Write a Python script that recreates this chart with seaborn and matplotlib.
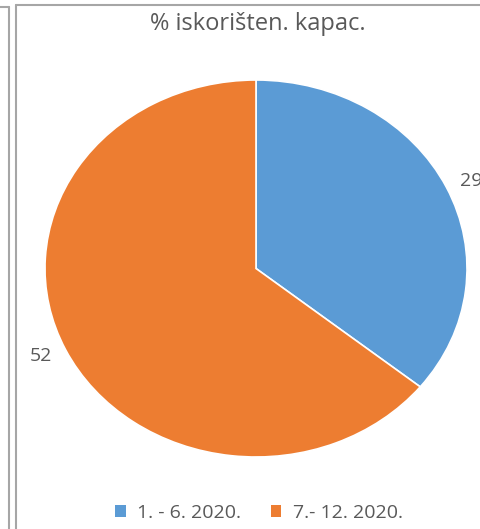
import matplotlib
matplotlib.use("Agg")
import matplotlib.pyplot as plt
from matplotlib.lines import Line2D
from matplotlib.patches import Patch
import seaborn as sns

# data
periods = ["1. - 6. 2020.", "7.- 12. 2020."]
values = [29, 52]
colors = ["#5B9BD5", "#ED7D31"]
title = "% iskorišten. kapac."

sns.set_theme(style="white")
plt.rcParams["font.family"] = ["Open Sans", "DejaVu Sans"]
TEXT = "#595959"

W, H = 481, 529
fig = plt.figure(figsize=(W / 100, H / 100), dpi=100)

# pie axes stretched to an ellipse like the spreadsheet chart
ax = fig.add_axes([45 / W, (H - 457) / H, 422 / W, 377 / H])
wedges, texts = ax.pie(
    values,
    labels=[str(v) for v in values],
    colors=colors,
    startangle=90,
    counterclock=False,
    labeldistance=1.07,
    wedgeprops=dict(edgecolor="white", linewidth=1.2),
    textprops=dict(color=TEXT, fontsize=14),
)
ax.set_aspect("auto")
ax.set_xlim(-1, 1)
ax.set_ylim(-1, 1)
for t in texts:
    t.set_clip_on(False)

fig.text(258 / W, 1 - 24 / H, title, ha="center", va="center",
         fontsize=17, color=TEXT)

handles = [Patch(facecolor=c, edgecolor="none") for c in colors]
fig.legend(handles, periods, loc="center", bbox_to_anchor=(259 / W, 1 - 513 / H),
           ncol=2, frameon=False, fontsize=14, labelcolor=TEXT,
           handlelength=0.55, handleheight=0.55, handletextpad=0.6, columnspacing=1.5)

# frames
g = "#A6A6A6"
fig.add_artist(Line2D([0, 9 / W], [1 - 7 / H] * 2, color=g, lw=1.5))
fig.add_artist(Line2D([9 / W] * 2, [0, 1 - 7 / H], color=g, lw=1.5))
fig.add_artist(Line2D([16 / W, 1], [1 - 5 / H] * 2, color=g, lw=1.5))
fig.add_artist(Line2D([16 / W] * 2, [0, 1 - 5 / H], color=g, lw=1.5))

fig.savefig("out.png", dpi=100)
